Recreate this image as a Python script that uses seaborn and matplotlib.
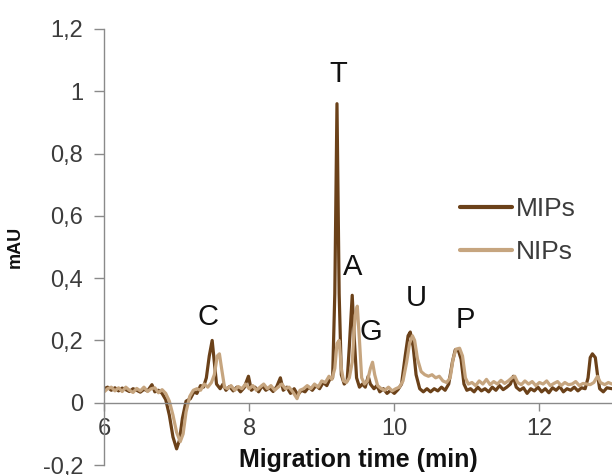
import pandas as pd
import numpy as np
import matplotlib
matplotlib.use("Agg")
import matplotlib.pyplot as plt
from matplotlib.ticker import FuncFormatter, MultipleLocator
import seaborn as sns

MIPS_C = "#6B4119"; NIPS_C = "#C6A57F"
AXIS_C = "#8A8A8A"; TEXT_C = "#3C3C3C"

# MIPs electropherogram (time in min, signal in mAU)
mips_time = [6.00, 6.05, 6.10, 6.15, 6.20, 6.25, 6.30, 6.35, 6.40, 6.45, 6.50, 6.55, 6.60, 6.66,
             6.70, 6.75, 6.80, 6.85, 6.90, 6.95, 7.00, 7.04, 7.08, 7.13, 7.19, 7.24, 7.28, 7.33,
             7.37, 7.41, 7.45, 7.49, 7.52, 7.55, 7.60, 7.64, 7.68, 7.73, 7.78, 7.83, 7.88, 7.93,
             7.99, 8.03, 8.08, 8.13, 8.18, 8.23, 8.28, 8.33, 8.38, 8.43, 8.47, 8.52, 8.57, 8.62,
             8.67, 8.72, 8.77, 8.82, 8.87, 8.92, 8.97, 9.02, 9.07, 9.11, 9.15, 9.18, 9.21, 9.24,
             9.27, 9.31, 9.35, 9.38, 9.42, 9.45, 9.48, 9.52, 9.56, 9.60, 9.64, 9.67, 9.72, 9.76,
             9.80, 9.85, 9.90, 9.95, 10.00, 10.05, 10.10, 10.15, 10.19, 10.22, 10.26, 10.30, 10.35,
             10.40, 10.45, 10.50, 10.55, 10.60, 10.65, 10.70, 10.75, 10.80, 10.84, 10.88, 10.92,
             10.96, 11.00, 11.05, 11.10, 11.15, 11.20, 11.25, 11.30, 11.35, 11.40, 11.45, 11.50,
             11.55, 11.60, 11.64, 11.68, 11.73, 11.78, 11.83, 11.88, 11.93, 11.98, 12.03, 12.08,
             12.13, 12.18, 12.23, 12.28, 12.33, 12.38, 12.43, 12.48, 12.53, 12.58, 12.63, 12.67,
             12.70, 12.73, 12.77, 12.80, 12.83, 12.88, 12.93, 13.00]
mips_mau = [0.045, 0.050, 0.040, 0.048, 0.038, 0.047, 0.042, 0.036, 0.045, 0.040, 0.034, 0.043, 0.038, 0.058,
            0.035, 0.040, 0.030, 0.010, -0.040, -0.110, -0.148, -0.120, -0.050, 0.005, 0.013, 0.035, 0.030, 0.055,
            0.050, 0.080, 0.150, 0.200, 0.130, 0.060, 0.045, 0.060, 0.040, 0.052, 0.038, 0.050, 0.035, 0.048,
            0.085, 0.040, 0.050, 0.035, 0.055, 0.040, 0.048, 0.036, 0.052, 0.080, 0.040, 0.050, 0.030, 0.045,
            0.025, 0.040, 0.035, 0.050, 0.040, 0.055, 0.045, 0.065, 0.055, 0.075, 0.080, 0.350, 0.960, 0.350,
            0.090, 0.060, 0.070, 0.180, 0.345, 0.200, 0.080, 0.050, 0.060, 0.050, 0.085, 0.060, 0.045, 0.055,
            0.035, 0.045, 0.030, 0.040, 0.030, 0.042, 0.060, 0.150, 0.215, 0.227, 0.180, 0.090, 0.045,
            0.035, 0.045, 0.035, 0.045, 0.038, 0.050, 0.040, 0.060, 0.130, 0.170, 0.170, 0.140,
            0.060, 0.040, 0.045, 0.035, 0.050, 0.038, 0.045, 0.035, 0.050, 0.040, 0.055, 0.042,
            0.050, 0.060, 0.085, 0.050, 0.040, 0.048, 0.030, 0.045, 0.038, 0.050, 0.035, 0.045,
            0.032, 0.048, 0.040, 0.052, 0.035, 0.045, 0.040, 0.050, 0.038, 0.048, 0.045, 0.080,
            0.145, 0.157, 0.145, 0.090, 0.045, 0.035, 0.048, 0.045]

# NIPs electropherogram
nips_time = [6.00, 6.05, 6.10, 6.15, 6.20, 6.25, 6.30, 6.35, 6.40, 6.45, 6.50, 6.55, 6.60, 6.65,
             6.70, 6.75, 6.80, 6.85, 6.90, 6.95, 7.00, 7.05, 7.09, 7.13, 7.18, 7.23, 7.28, 7.33,
             7.38, 7.43, 7.48, 7.52, 7.56, 7.59, 7.62, 7.66, 7.70, 7.75, 7.80, 7.85, 7.90, 7.95,
             8.00, 8.05, 8.10, 8.15, 8.20, 8.25, 8.30, 8.35, 8.40, 8.45, 8.50, 8.55, 8.60, 8.66,
             8.70, 8.75, 8.80, 8.85, 8.90, 8.95, 9.00, 9.05, 9.10, 9.14, 9.18, 9.21, 9.24, 9.27,
             9.30, 9.34, 9.38, 9.42, 9.46, 9.49, 9.52, 9.55, 9.59, 9.63, 9.67, 9.70, 9.73, 9.77,
             9.82, 9.87, 9.92, 9.97, 10.02, 10.07, 10.12, 10.17, 10.21, 10.25, 10.28, 10.32, 10.37,
             10.42, 10.47, 10.52, 10.57, 10.62, 10.67, 10.72, 10.77, 10.81, 10.85, 10.90, 10.94,
             10.98, 11.02, 11.07, 11.12, 11.17, 11.22, 11.27, 11.32, 11.37, 11.42, 11.47, 11.52,
             11.57, 11.62, 11.66, 11.70, 11.75, 11.80, 11.85, 11.90, 11.95, 12.00, 12.05, 12.10,
             12.15, 12.20, 12.25, 12.30, 12.35, 12.40, 12.45, 12.50, 12.55, 12.60, 12.65, 12.70,
             12.75, 12.80, 12.84, 12.90, 12.95, 13.00]
nips_mau = [0.035, 0.045, 0.050, 0.038, 0.048, 0.036, 0.050, 0.040, 0.033, 0.046, 0.038, 0.050, 0.036, 0.045,
            0.048, 0.032, 0.042, 0.030, 0.005, -0.040, -0.095, -0.125, -0.100, -0.030, 0.020, 0.040, 0.045, 0.040,
            0.060, 0.050, 0.065, 0.090, 0.150, 0.157, 0.110, 0.050, 0.045, 0.055, 0.040, 0.052, 0.045, 0.060,
            0.045, 0.055, 0.040, 0.050, 0.060, 0.045, 0.055, 0.040, 0.050, 0.060, 0.045, 0.050, 0.035, 0.013,
            0.040, 0.045, 0.055, 0.045, 0.060, 0.050, 0.070, 0.065, 0.085, 0.075, 0.110, 0.190, 0.200, 0.110,
            0.070, 0.065, 0.080, 0.130, 0.280, 0.310, 0.200, 0.080, 0.060, 0.070, 0.110, 0.130, 0.090, 0.055,
            0.045, 0.040, 0.050, 0.038, 0.045, 0.050, 0.070, 0.130, 0.190, 0.215, 0.200, 0.140, 0.100,
            0.090, 0.085, 0.090, 0.080, 0.085, 0.070, 0.065, 0.080, 0.140, 0.172, 0.175, 0.150,
            0.080, 0.060, 0.065, 0.055, 0.070, 0.060, 0.075, 0.058, 0.068, 0.060, 0.072, 0.062,
            0.070, 0.080, 0.085, 0.065, 0.058, 0.070, 0.060, 0.068, 0.055, 0.065, 0.060, 0.070,
            0.055, 0.062, 0.068, 0.055, 0.065, 0.058, 0.060, 0.068, 0.055, 0.062, 0.060, 0.058,
            0.065, 0.085, 0.065, 0.058, 0.065, 0.060]

# peak labels
peak_names = ["C", "T", "A", "G", "U", "P"]
peak_x = [7.43, 9.23, 9.42, 9.68, 10.30, 10.98]
peak_y = [0.275, 1.055, 0.435, 0.227, 0.336, 0.266]

df = pd.concat([
    pd.DataFrame({"time": mips_time, "mAU": mips_mau, "sample": "MIPs"}),
    pd.DataFrame({"time": nips_time, "mAU": nips_mau, "sample": "NIPs"}),
], ignore_index=True)

sns.set_style("white")
plt.rcParams["font.family"] = ["Liberation Sans", "DejaVu Sans"]

fig = plt.figure(figsize=(6.12, 4.75), dpi=100, facecolor="white")
ax = fig.add_axes([0.170, 0.021, 0.830, 0.918])

sns.lineplot(data=df, x="time", y="mAU", hue="sample", palette={"MIPs": MIPS_C, "NIPs": NIPS_C},
             estimator=None, sort=False, linewidth=2.3, ax=ax)

ax.set_xlim(6, 13)
ax.set_ylim(-0.2, 1.2)
ax.xaxis.set_major_locator(MultipleLocator(2))
ax.yaxis.set_major_locator(MultipleLocator(0.2))
fmt = FuncFormatter(lambda v, p: f"{round(v, 2):g}".replace(".", ","))
ax.xaxis.set_major_formatter(fmt)
ax.yaxis.set_major_formatter(fmt)

for s in ["top", "right"]:
    ax.spines[s].set_visible(False)
ax.spines["bottom"].set_position(("data", 0))
for s in ["left", "bottom"]:
    ax.spines[s].set_color(AXIS_C); ax.spines[s].set_linewidth(1.0)
ax.tick_params(axis="y", direction="out", length=7, width=1, color=AXIS_C,
               labelsize=17, labelcolor=TEXT_C, pad=8, left=True)
ax.tick_params(axis="x", direction="out", length=6, width=1, color=AXIS_C,
               labelsize=17, labelcolor=TEXT_C, pad=5, bottom=True)

ax.set_xlabel("Migration time (min)", fontsize=18, fontweight="bold", color="#111111", labelpad=6)
ax.set_ylabel("mAU", fontsize=13, fontweight="bold", color="#111111", labelpad=14)

for name, x, y in zip(peak_names, peak_x, peak_y):
    ax.text(x, y, name, fontsize=21, color="#111111", ha="center", va="center")

handles, labels = ax.get_legend_handles_labels()
for h in handles:
    h.set_linewidth(3)
ax.legend(handles, labels, loc="upper left", bbox_to_anchor=(0.700, 0.614), frameon=False,
          fontsize=19, handlelength=2.0, handletextpad=0.15, labelspacing=0.7,
          borderpad=0, borderaxespad=0, labelcolor=TEXT_C)

fig.savefig("out.png", dpi=100, facecolor="white")
